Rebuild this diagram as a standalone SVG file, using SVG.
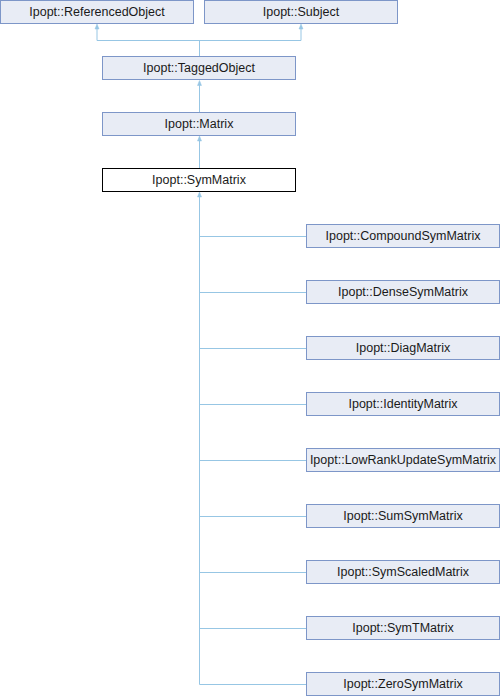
<svg xmlns="http://www.w3.org/2000/svg" width="500" height="696" viewBox="0 0 500 696">
<style>
.n rect{fill:#E8ECF5;stroke:#7D96C8;stroke-width:1}
.cur rect{fill:#FFFFFF;stroke:#000000;stroke-width:1}
text{font-family:"Liberation Sans",Arial,sans-serif;font-size:12.5px;fill:#1a1a1a;text-anchor:middle}
.e line,.e polyline{stroke:#97C6E4;stroke-width:1;fill:none}
.e polygon{fill:#97C6E4;stroke:#97C6E4;stroke-width:0.5}
</style>
<rect width="500" height="696" fill="#ffffff"/>
<g id="edges" class="e">
<polyline points="97,29 97,40.5 301,40.5 301,29"/>
<line x1="199.5" y1="40.5" x2="199.5" y2="56"/>
<polygon points="97,24 95,29 99,29"/>
<polygon points="301,24 299,29 303,29"/>
<line x1="199.5" y1="85" x2="199.5" y2="112"/>
<polygon points="199.5,80.5 197.5,85.5 201.5,85.5"/>
<line x1="199.5" y1="141" x2="199.5" y2="168"/>
<polygon points="199.5,136 197.5,141 201.5,141"/>
<line x1="199.5" y1="197" x2="199.5" y2="684.5"/>
<polygon points="199.5,192 197.5,197 201.5,197"/>
<line x1="199.5" y1="236.5" x2="306" y2="236.5"/>
<line x1="199.5" y1="292.5" x2="306" y2="292.5"/>
<line x1="199.5" y1="348.5" x2="306" y2="348.5"/>
<line x1="199.5" y1="404.5" x2="306" y2="404.5"/>
<line x1="199.5" y1="460.5" x2="306" y2="460.5"/>
<line x1="199.5" y1="516.5" x2="306" y2="516.5"/>
<line x1="199.5" y1="572.5" x2="306" y2="572.5"/>
<line x1="199.5" y1="628.5" x2="306" y2="628.5"/>
<line x1="199.5" y1="684.5" x2="306" y2="684.5"/>
</g>
<g id="ReferencedObject" class="n"><rect x="0.5" y="0.5" width="193" height="23"/><text x="97" y="16">Ipopt::ReferencedObject</text></g>
<g id="Subject" class="n"><rect x="204.5" y="0.5" width="193" height="23"/><text x="301" y="16">Ipopt::Subject</text></g>
<g id="TaggedObject" class="n"><rect x="102.5" y="56.5" width="193" height="23"/><text x="199" y="72">Ipopt::TaggedObject</text></g>
<g id="Matrix" class="n"><rect x="102.5" y="112.5" width="193" height="23"/><text x="199" y="128">Ipopt::Matrix</text></g>
<g id="SymMatrix" class="cur"><rect x="102.5" y="168.5" width="193" height="23"/><text x="199" y="184">Ipopt::SymMatrix</text></g>
<g id="CompoundSymMatrix" class="n"><rect x="306.5" y="224.5" width="193" height="23"/><text x="403" y="240">Ipopt::CompoundSymMatrix</text></g>
<g id="DenseSymMatrix" class="n"><rect x="306.5" y="280.5" width="193" height="23"/><text x="403" y="296">Ipopt::DenseSymMatrix</text></g>
<g id="DiagMatrix" class="n"><rect x="306.5" y="336.5" width="193" height="23"/><text x="403" y="352">Ipopt::DiagMatrix</text></g>
<g id="IdentityMatrix" class="n"><rect x="306.5" y="392.5" width="193" height="23"/><text x="403" y="408">Ipopt::IdentityMatrix</text></g>
<g id="LowRankUpdateSymMatrix" class="n"><rect x="306.5" y="448.5" width="193" height="23"/><text x="403" y="464">Ipopt::LowRankUpdateSymMatrix</text></g>
<g id="SumSymMatrix" class="n"><rect x="306.5" y="504.5" width="193" height="23"/><text x="403" y="520">Ipopt::SumSymMatrix</text></g>
<g id="SymScaledMatrix" class="n"><rect x="306.5" y="560.5" width="193" height="23"/><text x="403" y="576">Ipopt::SymScaledMatrix</text></g>
<g id="SymTMatrix" class="n"><rect x="306.5" y="616.5" width="193" height="23"/><text x="403" y="632">Ipopt::SymTMatrix</text></g>
<g id="ZeroSymMatrix" class="n"><rect x="306.5" y="672.5" width="193" height="23"/><text x="403" y="688">Ipopt::ZeroSymMatrix</text></g>
</svg>
